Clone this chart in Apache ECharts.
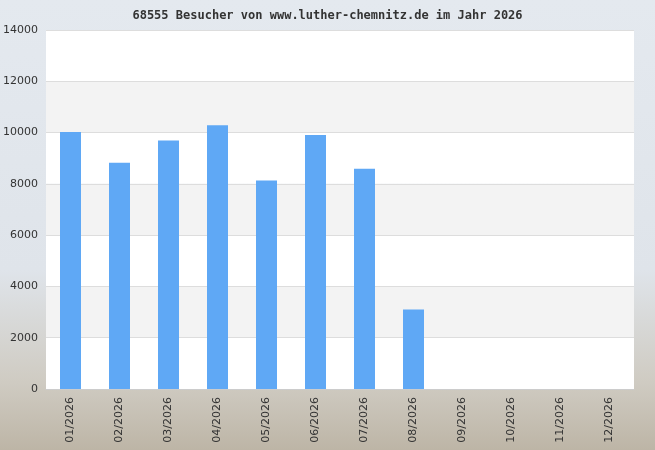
<!DOCTYPE html>
<html><head><meta charset="utf-8">
<script src="https://cdn.jsdelivr.net/npm/echarts@6/dist/echarts.min.js"></script>
<style>html,body{margin:0;padding:0}#c{width:655px;height:450px;background:linear-gradient(180deg,#e4e9ef 0%,#dfe4ea 60%,#cfcbc2 85%,#bdb5a6 100%)}</style>
</head><body><div id="c"></div>
<script>
const categories = ['01/2026','02/2026','03/2026','04/2026','05/2026','06/2026','07/2026','08/2026','09/2026','10/2026','11/2026','12/2026'];
const visitors = [10020, 8820, 9690, 10290, 8130, 9910, 8590, 3105, null, null, null, null];
const titleText = '68555 Besucher von www.luther-chemnitz.de im Jahr 2026';
const chart = echarts.init(document.getElementById('c'));
chart.setOption({
  animation:false,
  title:{text:titleText,left:'center',top:5,textStyle:{fontFamily:'DejaVu Sans Mono',fontSize:12,fontWeight:'bold',color:'#333'}},
  grid:{left:46,right:21,top:30,bottom:61,containLabel:false,outerBoundsMode:'none'},
  xAxis:{type:'category',data:categories,
    axisLine:{lineStyle:{color:'#ccc'}},axisTick:{show:false},
    axisLabel:{rotate:90,fontFamily:'DejaVu Sans',fontSize:11,color:'#333',interval:0}},
  yAxis:{type:'value',min:0,max:14000,interval:2000,
    axisLine:{show:false},axisTick:{show:false},
    axisLabel:{fontFamily:'DejaVu Sans',fontSize:11,color:'#333',formatter:v=>String(v)},
    splitLine:{lineStyle:{color:'#ddd'}},
    splitArea:{show:true,areaStyle:{color:['#ffffff','#f3f3f3']}}},
  series:[{type:'bar',data:visitors,barWidth:21,itemStyle:{color:'#5fa8f5'}}]
});
</script></body></html>
